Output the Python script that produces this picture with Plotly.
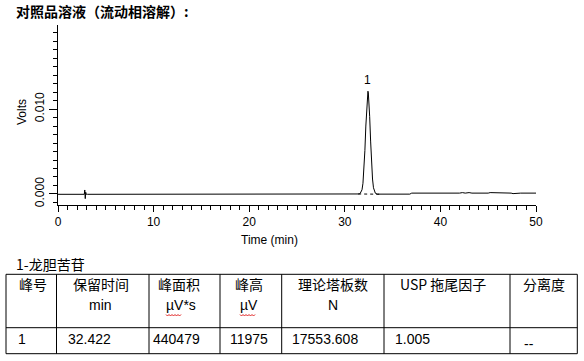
import plotly.graph_objects as go

# ---------------- data ----------------
time_min = [0.0, 0.4, 2.3, 2.4, 2.5, 2.75, 2.8, 2.85, 2.9, 2.95, 3.1, 6.7, 6.75, 6.8, 7.5, 7.55, 7.6,
            16.4, 16.8, 17.3, 17.9, 18.5, 31.2, 31.5, 31.6, 31.8, 31.9, 32.0, 32.1, 32.2, 32.3, 32.38,
            32.42, 32.46, 32.5, 32.6, 32.7, 32.8, 32.9, 33.0, 33.1, 33.2, 33.4, 33.6, 36.8, 37.0, 41.0,
            41.1, 42.0, 42.3, 42.6, 43.0, 43.3, 45.0, 45.2, 47.4, 47.6, 48.4, 50.0]
volts = [-0.00004, -0.00004, -0.00004, 0.00004, -0.00004, -0.00004, 0.00047, -0.00055, 0.0002, -0.00004,
         -0.00004, -0.00004, 0.00003, -0.00004, -0.00004, 0.00003, -0.00004,
         0.0, -0.00002, 0.0, -0.00002, -0.00004, -0.00004, 0.0, 0.00005, 0.00049, 0.00126, 0.00275,
         0.0051, 0.0080, 0.01062, 0.01190,
         0.01210, 0.01190, 0.01136, 0.00914, 0.00623, 0.0036, 0.00176, 0.00073, 0.00025, 0.00008,
         -0.00002, -0.00002, -0.00002, 0.0001, 0.0001,
         0.00004, 0.0001, 0.00016, 0.0001, 0.00016, 0.0001, 0.0001, 0.00016, 0.0001, 0.00004, 0.0001, 0.0001]
integ_baseline_t = [31.4, 33.7]
integ_baseline_v = [0.0, -0.00003]

peak_labels = ["1"]
peak_times = [32.42]
peak_heights = [0.01210]

title_text = "对照品溶液（流动相溶解）:"
compound = "1-龙胆苦苷"
header_row1 = ["峰号", "保留时间", "峰面积", "峰高", "理论塔板数", "USP 拖尾因子", "分离度"]
header_row2 = ["", "min", "µV*s", "µV", "N", "", ""]
data_row = ["1", "32.422", "440479", "11975", "17553.608", "1.005", "--"]

# ---------------- layout helpers (pixel -> paper) ----------------
W, H = 584, 361
L, R, T, B = 58, 536, 25, 205


def px(x):
    return (x - L) / (R - L)


def py(y):
    return (B - y) / (B - T)


LAT = "Liberation Sans, Arial, Noto Sans CJK SC, sans-serif"
CJK = "Noto Sans CJK SC, Liberation Sans, sans-serif"

fig = go.Figure()
fig.add_trace(go.Scatter(x=time_min, y=volts, mode="lines",
                         line=dict(color="black", width=1), hoverinfo="skip", showlegend=False))
fig.add_trace(go.Scatter(x=integ_baseline_t, y=integ_baseline_v, mode="lines",
                         line=dict(color="black", width=1, dash="3px,3px"), hoverinfo="skip",
                         showlegend=False))

annotations = []
for lab, t, h in zip(peak_labels, peak_times, peak_heights):
    annotations.append(dict(x=t, y=h, xref="x", yref="y", text=lab, showarrow=False,
                            yanchor="bottom", yshift=2, font=dict(family=LAT, size=12, color="black")))

# title
annotations.append(dict(x=px(14), y=py(11), xref="paper", yref="paper", text="<b>" + title_text + "</b>",
                        showarrow=False, xanchor="left", yanchor="middle",
                        font=dict(family=CJK, size=14, color="black")))
# axis titles
annotations.append(dict(x=px(22), y=py(112), xref="paper", yref="paper", text="Volts", textangle=-90,
                        showarrow=False, xanchor="center", yanchor="middle",
                        font=dict(family=LAT, size=12, color="black")))
annotations.append(dict(x=px(269), y=py(240), xref="paper", yref="paper", text="Time (min)",
                        showarrow=False, xanchor="center", yanchor="middle",
                        font=dict(family=LAT, size=12, color="black")))
# compound label
annotations.append(dict(x=px(14), y=py(264), xref="paper", yref="paper", text=compound,
                        showarrow=False, xanchor="left", yanchor="middle",
                        font=dict(family=CJK, size=14, color="black")))

# table geometry
col_lines = [6, 56.5, 149, 220, 281.7, 384, 510, 577.3]
row_lines = [274.3, 327.7, 353.7]
hdr1_pos = [(17, "left"), (100.5, "center"), (179, "center"), (249, "center"),
            (333, "center"), (443, "center"), (543.5, "center")]
hdr2_pos = [(17, "left"), (100.5, "center"), (180.5, "center"), (248.5, "center"),
            (333, "center"), (443, "center"), (543.5, "center")]
data_pos = [16, 65.5, 151, 228, 290, 392.5, 522]

shapes = []
for yl in row_lines:
    shapes.append(dict(type="line", xref="paper", yref="paper", x0=px(col_lines[0]), x1=px(col_lines[-1]),
                       y0=py(yl), y1=py(yl), line=dict(color="black", width=1)))
for xl in col_lines:
    shapes.append(dict(type="line", xref="paper", yref="paper", x0=px(xl), x1=px(xl),
                       y0=py(row_lines[0]), y1=py(row_lines[-1]), line=dict(color="black", width=1)))

for txt, (xx, anc) in zip(header_row1, hdr1_pos):
    annotations.append(dict(x=px(xx), y=py(284), xref="paper", yref="paper", text=txt, showarrow=False,
                            xanchor=anc, yanchor="middle", font=dict(family=CJK, size=14, color="black")))
for txt, (xx, anc) in zip(header_row2, hdr2_pos):
    if txt:
        annotations.append(dict(x=px(xx), y=py(305), xref="paper", yref="paper", text=txt, showarrow=False,
                                xanchor=anc, yanchor="middle",
                                font=dict(family=LAT, size=14, color="black")))
for i, (txt, xx) in enumerate(zip(data_row, data_pos)):
    yy = 344 if txt == "--" else 338.5
    annotations.append(dict(x=px(xx), y=py(yy), xref="paper", yref="paper", text=txt, showarrow=False,
                            xanchor="left", yanchor="middle", font=dict(family=LAT, size=14, color="black")))

# red spell-check squiggles under µV
for x0, x1 in [(166, 182), (240, 256)]:
    pts = []
    xx = x0
    k = 0
    while xx <= x1:
        yy = 315 + (1 if k % 2 else -0.5)
        pts.append(f"{px(xx)},{py(yy)}")
        xx += 1.5
        k += 1
    shapes.append(dict(type="path", xref="paper", yref="paper", path="M " + " L ".join(pts),
                       line=dict(color="#e02020", width=1)))

fig.update_layout(
    width=W, height=H,
    margin=dict(l=L, r=W - R, t=T, b=H - B, pad=0, autoexpand=False),
    paper_bgcolor="white", plot_bgcolor="white",
    showlegend=False,
    font=dict(family=LAT, size=12, color="black"),
    annotations=annotations,
    shapes=shapes,
    xaxis=dict(range=[0, 50], tick0=0, dtick=10, showgrid=False, zeroline=False, automargin=False,
               showline=True, linecolor="black", linewidth=1, ticks="outside", ticklen=6,
               tickcolor="black", tickwidth=1,
               minor=dict(dtick=1, ticks="outside", ticklen=4, tickcolor="black", tickwidth=1, showgrid=False),
               tickfont=dict(family=LAT, size=12, color="black")),
    yaxis=dict(range=[-0.0013, 0.0199], tick0=0, dtick=0.01, tickformat=".3f", tickangle=-90,
               showgrid=False, zeroline=False, showline=True, linecolor="black", linewidth=1,
               automargin=False,
               ticks="outside", ticklen=8, tickcolor="black", tickwidth=1,
               minor=dict(dtick=0.001, ticks="outside", ticklen=4, tickcolor="black", tickwidth=1,
                          showgrid=False),
               tickfont=dict(family=LAT, size=12, color="black")),
)

fig.write_html("out.html",
               config={"displayModeBar": False},
               post_script="document.body.style.margin='0';document.body.style.padding='0';"
                           "document.documentElement.style.overflow='hidden';")
